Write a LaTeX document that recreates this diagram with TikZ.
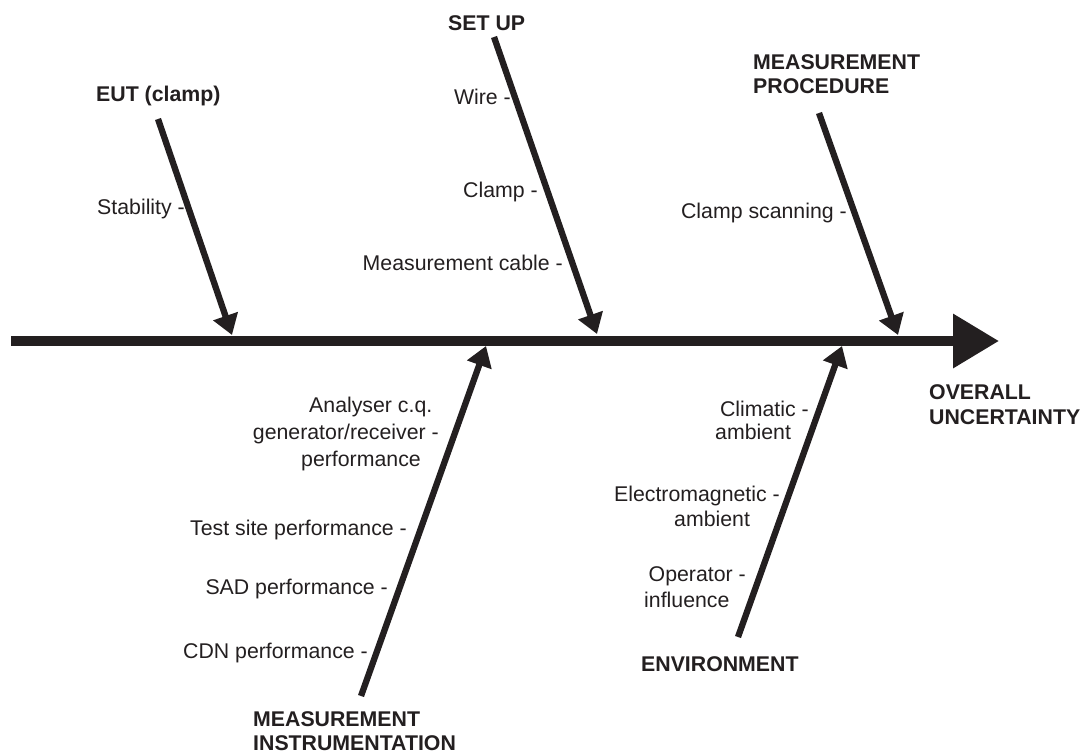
\documentclass[tikz,border=0pt]{standalone}
\usepackage{fontspec}
\setmainfont{Liberation Sans}
\usetikzlibrary{arrows.meta}
\definecolor{ink}{RGB}{35,31,32}
\begin{document}
\begin{tikzpicture}[x=1pt,y=-1pt,
  lbl/.style={inner sep=0pt, text=ink, font=\fontsize{21.3}{24}\selectfont},
  hdr/.style={inner sep=0pt, text=ink, font=\fontsize{21.3}{24}\selectfont\bfseries},
  spine/.style={draw=ink, line width=10pt, -{Triangle[width=52pt,length=46pt]}},
  bone/.style={draw=ink, line width=6.3pt, -{Triangle[width=25pt,length=20pt]}}]
\useasboundingbox (0,0) rectangle (1085,753);
% spine
\coordinate (spS) at (11,341);
\coordinate (spE) at (999,341);
\draw[spine] (spS) -- (spE);
% branch coordinates
\coordinate (eutS) at (158,119);  \coordinate (eutT) at (232,335);
\coordinate (setS) at (494,37);   \coordinate (setT) at (597,334);
\coordinate (proS) at (819,113);  \coordinate (proT) at (898,335);
\coordinate (insS) at (361,696);  \coordinate (insT) at (486,346);
\coordinate (envS) at (738,637);  \coordinate (envT) at (842,346);
\draw[bone] (eutS) -- (eutT);
\draw[bone] (setS) -- (setT);
\draw[bone] (proS) -- (proT);
\draw[bone] (insS) -- (insT);
\draw[bone] (envS) -- (envT);
% headers
\node[hdr, anchor=base west] (hEUT) at (96,101) {EUT (clamp)};
\node[hdr, anchor=base west] (hSET) at (448,30) {SET UP};
\node[hdr, anchor=base west] (hPRO1) at (753,69) {MEASUREMENT};
\node[hdr, anchor=base west] (hPRO2) at (753,93) {PROCEDURE};
\node[hdr, anchor=base west] (hOV1) at (929,399) {OVERALL};
\node[hdr, anchor=base west] (hOV2) at (929,424) {UNCERTAINTY};
\node[hdr, anchor=base west] (hINS1) at (253,726.5) {MEASUREMENT};
\node[hdr, anchor=base west] (hINS2) at (253,750.5) {INSTRUMENTATION};
\node[hdr, anchor=base west] (hENV) at (641,671) {ENVIRONMENT};
% causes
\node[lbl, anchor=base east] (cStab) at (185,214) {Stability -};
\node[lbl, anchor=base east] (cWire) at (511,104) {Wire -};
\node[lbl, anchor=base east] (cClamp) at (538,197) {Clamp -};
\node[lbl, anchor=base east] (cCable) at (563,270) {Measurement cable -};
\node[lbl, anchor=base east] (cScan) at (847,218) {Clamp scanning -};
\node[lbl, anchor=base west] (cAn1) at (309,412) {Analyser c.q.};
\node[lbl, anchor=base east] (cAn2) at (439,439) {generator/receiver -};
\node[lbl, anchor=base west] (cAn3) at (301,466) {performance};
\node[lbl, anchor=base east] (cTest) at (407,535) {Test site performance -};
\node[lbl, anchor=base east] (cSAD) at (388,594) {SAD performance -};
\node[lbl, anchor=base east] (cCDN) at (368,658) {CDN performance -};
\node[lbl, anchor=base east] (cCl1) at (809,416) {Climatic -};
\node[lbl, anchor=base west] (cCl2) at (715,439) {ambient};
\node[lbl, anchor=base east] (cEm1) at (780,501) {Electromagnetic -};
\node[lbl, anchor=base west] (cEm2) at (674,526) {ambient};
\node[lbl, anchor=base east] (cOp1) at (746,581) {Operator -};
\node[lbl, anchor=base west] (cOp2) at (644,607) {influence};
\end{tikzpicture}
\end{document}
